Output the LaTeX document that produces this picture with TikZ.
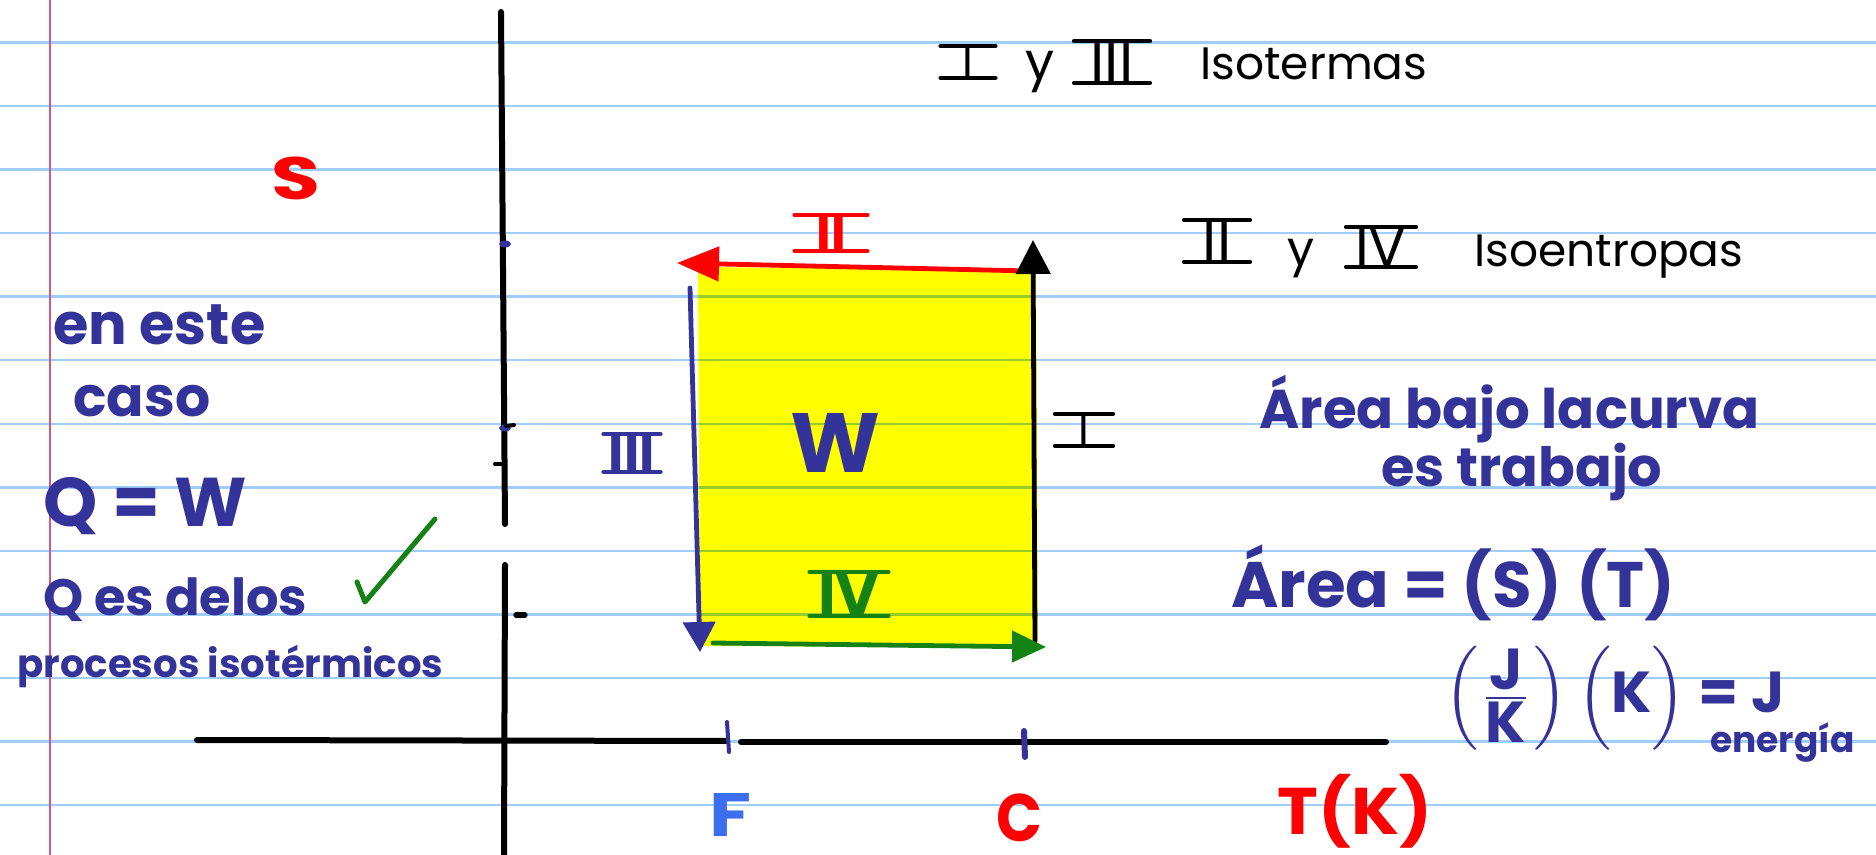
\documentclass[tikz,border=0pt]{standalone}
\usepackage{fontspec}
\usepackage{graphicx}
\usetikzlibrary{arrows.meta}
\newfontfamily\hand{Poppins}
\definecolor{ink}{RGB}{51,51,153}
\definecolor{rul}{RGB}{160,205,250}
\definecolor{marg}{RGB}{200,90,140}
\definecolor{inkred}{RGB}{255,0,0}
\definecolor{inkgreen}{RGB}{20,130,20}
\definecolor{hl}{RGB}{255,255,0}
\definecolor{rulhl}{RGB}{150,205,40}
\definecolor{fblue}{RGB}{60,110,240}
\newcommand\fitw[2]{\resizebox{#1pt}{!}{#2}}
\newcommand\fitwh[3]{\resizebox*{#1pt}{#2pt}{#3}}
\begin{document}
\begin{tikzpicture}[x=0.5pt,y=-0.5pt,
  txt/.style={inner sep=0pt, anchor=base west, font=\hand\bfseries},
  txtb/.style={inner sep=0pt, anchor=base west, font=\hand},
  lbl/.style={inner sep=0pt, anchor=center, font=\hand\bfseries},
  rn/.style n args={4}{inner sep=0pt, minimum width=#2pt, text height=#3pt, text depth=0pt,
     font=\hand\bfseries\fontsize{#4}{#4}\selectfont, text=#1,
     append after command={(\tikzlastnode.north west) edge[draw=#1, line width=2.2pt, line cap=round] (\tikzlastnode.north east)
       (\tikzlastnode.south west) edge[draw=#1, line width=2.2pt, line cap=round] (\tikzlastnode.south east)}},
  axis/.style={line width=3pt, line cap=round, black},
  cyc/.style={line width=2.4pt, line cap=round},
  ruling/.style={line width=1.2pt}
]
\useasboundingbox (0,0) rectangle (1876,855);
\fill[white] (0,0) rectangle (1876,855);
% ruled paper
\foreach \k in {0,...,12} \draw[ruling, rul] (0,{42.5+63.55*\k}) -- (1876,{42.5+63.55*\k});
\draw[marg, line width=0.9pt] (50,0) -- (50,855);

% area
\coordinate (ytl) at (698,267);
\coordinate (ytr) at (1036,270);
\coordinate (ybr) at (1038,647);
\coordinate (ybl) at (700,646);
\fill[hl] (ytl) -- (ytr) -- (ybr) -- (ybl) -- cycle;
\begin{scope}
\clip (ytl) -- (ytr) -- (ybr) -- (ybl) -- cycle;
\foreach \k in {0,...,12} \draw[ruling, rulhl] (0,{42.5+63.55*\k}) -- (1876,{42.5+63.55*\k});
\end{scope}

% axes
\coordinate (vtop) at (501,12);
\coordinate (vgap1) at (505,524);
\coordinate (vgap2) at (505,565);
\coordinate (vbot) at (504,858);
\coordinate (hleft) at (197,740);
\coordinate (hgap1) at (727,741);
\coordinate (hgap2) at (741,742);
\coordinate (hright) at (1386,742);
\draw[axis] (vtop) -- (vgap1);
\draw[axis] (vgap2) -- (vbot);
\draw[axis] (hleft) -- (hgap1);
\draw[axis] (hgap2) -- (hright);
% ticks
\coordinate (tf1) at (727,722); \coordinate (tf2) at (729,752);
\coordinate (tc1) at (1024,731); \coordinate (tc2) at (1025,757);
\draw[ink, line width=2pt, line cap=round] (tf1) -- (tf2);
\draw[ink, line width=3pt, line cap=round] (tc1) -- (tc2);
\fill[ink] (505,244) ellipse [x radius=6, y radius=3.5];
\fill[ink] (505,428) ellipse [x radius=6, y radius=3.5];
\coordinate (tk1) at (495,464); \coordinate (tk2) at (504,464);
\coordinate (tk3) at (506,426); \coordinate (tk4) at (514,425);
\coordinate (tk5) at (516,615); \coordinate (tk6) at (525,615);
\draw[black, line width=2pt, line cap=round] (tk1) -- (tk2);
\draw[black, line width=2pt, line cap=round] (tk3) -- (tk4);
\draw[black, line width=2.6pt, line cap=round] (tk5) -- (tk6);

% cycle
\coordinate (iiS) at (1030,271); \coordinate (iiE) at (677,263);
\coordinate (iS) at (1035,641); \coordinate (iE) at (1033,240);
\coordinate (iiiS) at (690,288); \coordinate (iiiE) at (700,652);
\coordinate (ivS) at (713,643); \coordinate (ivE) at (1046,647);
\draw[cyc, inkred, -{Triangle[length=21pt,width=17pt]}] (iiS) -- (iiE);
\draw[cyc, black, -{Triangle[length=17pt,width=17pt]}] (iS) -- (iE);
\draw[cyc, ink, -{Triangle[length=15pt,width=16pt]}] (iiiS) -- (iiiE);
\draw[cyc, inkgreen, -{Triangle[length=17pt,width=15.5pt]}] (ivS) -- (ivE);

% cycle labels
\node[rn={inkred}{36}{17.5}{25}] (lII) at (831,233) {II};
\node[rn={black}{28.5}{15.5}{22}, font=\hand\fontsize{22}{22}\selectfont] (lI) at (1084,430) {I};
\node[rn={ink}{28}{18.5}{26}] (lIII) at (632,453) {III};
\node[rn={inkgreen}{39}{21.5}{30}] (lIV) at (849,594) {IV};
\node[lbl, text=ink] (W) at (835,443) {\fitwh{45}{29.5}{W}};

% axis labels
\node[lbl, text=inkred] (S) at (296,178) {\fitwh{24.5}{21.5}{S}};
\node[lbl, text=fblue] (F) at (730,815) {\fitwh{21}{21.5}{F}};
\node[lbl, text=inkred] (C) at (1019,818) {\fitwh{23}{24}{C}};
\node[lbl, text=inkred] (TK) at (1355,811) {\fitwh{77.5}{37}{T(K)}};

% top right notes
\node[rn={black}{27}{15.5}{22}, font=\hand\fontsize{22}{22}\selectfont] (n1a) at (968,62) {I};
\node[txtb] (n1b) at (1025,80) {\fitw{14.5}{y}};
\node[rn={black}{37.5}{20.5}{29}, font=\hand\fontsize{29}{29}\selectfont] (n1c) at (1112,62) {III};
\node[txtb] (n1d) at (1200,80) {\fitw{113.5}{Isotermas}};
\node[rn={black}{32.5}{20.5}{29}, font=\hand\fontsize{29}{29}\selectfont] (n2a) at (1217,241) {II};
\node[txtb] (n2b) at (1287,266) {\fitw{13.5}{y}};
\node[rn={black}{34.5}{19.5}{28}, font=\hand\fontsize{28}{28}\selectfont] (n2c) at (1381,247) {IV};
\node[txtb] (n2d) at (1474,267) {\fitw{134.5}{Isoentropas}};

% right notes
\node[txt, text=ink] (r1) at (1259,429) {\fitw{250}{Área bajo lacurva}};
\node[txt, text=ink] (r2) at (1381,487) {\fitw{140.5}{es trabajo}};
\node[txt, text=ink] (r3) at (1231,608) {\fitw{222}{Área = (S) (T)}};
\node[txt, text=ink, anchor=west] (r4) at (1444,698) {\fitw{170}{\(\left(\frac{\mbox{J}}{\mbox{K}}\right)\left(\vphantom{\frac{\mbox{J}}{\mbox{K}}}\mbox{K}\right)\) = J}};
\node[txt, text=ink] (r5) at (1710,753) {\fitw{72}{energía}};

% left notes
\node[txt, text=ink] (l1) at (53,345) {\fitw{106}{en este}};
\node[txt, text=ink] (l2) at (73,417) {\fitw{68.5}{caso}};
\node[txt, text=ink] (l3) at (43,527) {\fitw{102}{Q = W}};
\node[txt, text=ink] (l4) at (43,616) {\fitw{132}{Q es delos}};
\node[txt, text=ink] (l5) at (17,678) {\fitw{213}{procesos isotérmicos}};

% check mark
\coordinate (ck1) at (357,582); \coordinate (ck2) at (365,602); \coordinate (ck3) at (435,519);
\draw[inkgreen, line width=2.5pt, line cap=round, line join=round] (ck1) -- (ck2) -- (ck3);
\end{tikzpicture}
\end{document}
